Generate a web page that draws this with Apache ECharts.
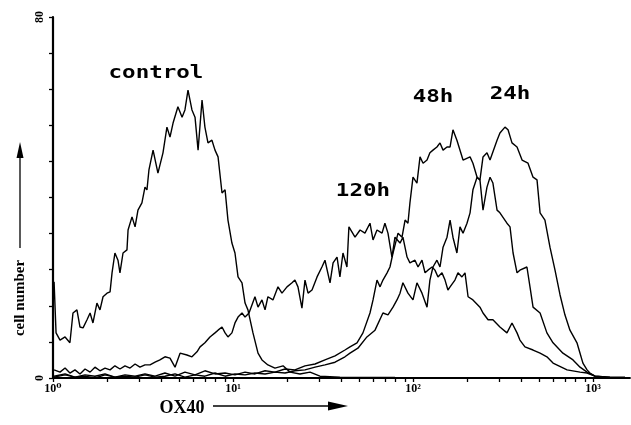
<!DOCTYPE html>
<html><head><meta charset="utf-8">
<script src="https://cdn.jsdelivr.net/npm/echarts@6/dist/echarts.min.js"></script>
<style>html,body{margin:0;padding:0;background:#fff}#c{width:631px;height:425px}</style>
</head><body><div id="c"></div>
<script>
// x = log10(OX40 fluorescence), y = cell number
const xDecades = [0, 1, 2, 3];
const xTickLabels = ['10\u2070', '10\u00b9', '10\u00b2', '10\u00b3'];
const yLabels = [0, 80];

const control = [[0.006,21.3],[0.017,10.0],[0.039,8.4],[0.067,9.1],[0.094,7.8],[0.111,14.4],[0.133,15.1],[0.150,11.3],[0.167,11.1],[0.189,12.9],[0.206,14.4],[0.222,12.2],[0.244,16.6],[0.261,15.1],[0.278,18.0],[0.300,18.8],[0.317,19.1],[0.328,23.3],[0.344,27.7],[0.361,26.1],[0.372,23.3],[0.389,27.7],[0.411,28.4],[0.417,32.8],[0.439,35.7],[0.456,33.5],[0.472,37.2],[0.494,38.8],[0.511,42.3],[0.522,41.7],[0.533,46.1],[0.556,50.5],[0.583,45.4],[0.611,49.9],[0.633,55.6],[0.650,53.4],[0.667,56.5],[0.694,60.1],[0.717,57.8],[0.733,59.4],[0.750,63.8],[0.772,59.4],[0.789,57.8],[0.806,50.5],[0.828,61.6],[0.844,55.6],[0.861,52.1],[0.883,52.7],[0.900,50.5],[0.917,49.0],[0.939,41.0],[0.956,41.7],[0.972,35.0],[0.994,29.9],[1.011,27.7],[1.028,22.4],[1.050,21.1],[1.067,16.6],[1.083,15.1],[1.111,10.0],[1.139,5.5],[1.161,4.0],[1.194,2.9],[1.233,2.2],[1.278,2.7],[1.317,1.3],[1.372,0.9],[1.428,1.3],[1.483,0.4],[1.594,0.2],[1.900,0.1],[2.500,0],[3.200,0]];

const h120 = [[0.006,1.8],[0.039,1.3],[0.067,2.2],[0.094,1.1],[0.122,1.8],[0.150,0.9],[0.178,2.0],[0.206,1.3],[0.233,2.4],[0.261,1.6],[0.289,2.2],[0.317,1.8],[0.344,2.7],[0.372,2.0],[0.400,2.7],[0.428,2.2],[0.456,3.1],[0.483,2.4],[0.511,2.9],[0.539,2.9],[0.567,3.5],[0.594,4.0],[0.622,4.7],[0.650,4.4],[0.678,2.4],[0.706,5.5],[0.744,5.1],[0.772,4.7],[0.800,5.8],[0.817,6.9],[0.844,7.8],[0.872,9.1],[0.900,10.0],[0.917,10.6],[0.939,11.3],[0.956,10.0],[0.972,9.1],[0.994,10.0],[1.011,12.2],[1.028,13.5],[1.050,14.4],[1.067,13.5],[1.089,14.4],[1.122,18.0],[1.139,15.7],[1.161,17.3],[1.178,15.1],[1.194,18.0],[1.222,17.3],[1.250,20.2],[1.272,18.8],[1.300,20.2],[1.328,21.1],[1.344,21.7],[1.361,20.2],[1.383,15.5],[1.400,21.7],[1.417,18.8],[1.439,19.5],[1.467,22.4],[1.494,24.6],[1.511,26.1],[1.539,21.1],[1.556,25.5],[1.578,26.8],[1.594,22.4],[1.611,27.7],[1.633,24.6],[1.644,33.5],[1.678,31.2],[1.706,32.8],[1.733,32.1],[1.761,34.3],[1.778,30.6],[1.800,32.8],[1.828,32.1],[1.844,34.3],[1.861,32.1],[1.883,26.8],[1.900,31.2],[1.928,29.9],[1.944,31.2],[1.967,26.8],[1.983,25.5],[2.011,26.1],[2.028,24.6],[2.050,26.1],[2.067,23.3],[2.083,23.9],[2.106,24.6],[2.122,23.9],[2.139,22.4],[2.161,23.3],[2.178,21.7],[2.194,19.5],[2.206,20.2],[2.233,21.7],[2.250,23.3],[2.272,22.4],[2.289,23.3],[2.306,18.0],[2.333,17.3],[2.372,15.7],[2.389,14.4],[2.417,12.9],[2.444,12.9],[2.483,11.3],[2.522,10.0],[2.550,12.2],[2.578,10.0],[2.594,8.4],[2.622,6.9],[2.667,6.2],[2.706,5.5],[2.744,4.7],[2.778,3.3],[2.856,1.8],[2.928,1.3],[2.967,1.1],[3.011,0.4],[3.094,0.2],[3.178,0.2]];

const h48 = [[0.006,0.4],[0.067,0.9],[0.122,0.2],[0.178,0.7],[0.233,0.4],[0.289,0.9],[0.344,0.2],[0.400,0.7],[0.456,0.4],[0.511,0.9],[0.567,0.4],[0.622,1.1],[0.678,0.4],[0.733,1.3],[0.789,0.7],[0.844,1.6],[0.900,0.9],[0.956,1.1],[1.011,0.7],[1.067,1.3],[1.122,0.9],[1.178,1.6],[1.233,1.3],[1.289,2.0],[1.344,1.8],[1.400,2.7],[1.456,3.1],[1.511,4.0],[1.567,4.9],[1.622,6.2],[1.650,6.9],[1.689,7.8],[1.722,10.0],[1.761,14.4],[1.778,17.3],[1.800,21.7],[1.817,20.2],[1.833,21.7],[1.856,23.3],[1.872,24.6],[1.889,27.7],[1.917,32.1],[1.939,31.2],[1.956,35.0],[1.972,34.3],[1.983,38.8],[2.000,44.5],[2.022,43.2],[2.039,49.0],[2.056,47.6],[2.078,48.3],[2.094,49.9],[2.111,50.5],[2.133,51.2],[2.150,52.1],[2.167,50.5],[2.189,51.2],[2.206,51.2],[2.222,55.0],[2.244,52.7],[2.278,48.3],[2.317,49.0],[2.333,47.6],[2.356,44.5],[2.372,43.9],[2.389,37.2],[2.411,42.3],[2.428,44.5],[2.444,43.2],[2.467,37.2],[2.483,36.6],[2.522,34.3],[2.539,33.5],[2.556,27.7],[2.578,23.3],[2.594,23.9],[2.633,24.6],[2.650,20.2],[2.667,15.7],[2.706,14.4],[2.744,10.0],[2.778,7.8],[2.833,5.5],[2.889,4.0],[2.928,2.4],[2.967,1.3],[3.011,0.4],[3.094,0.2]];

const h24 = [[0.006,0.2],[0.067,0.7],[0.122,0.2],[0.178,0.4],[0.233,0],[0.289,0.7],[0.344,0.2],[0.400,0.4],[0.456,0.2],[0.511,0.7],[0.567,0.2],[0.622,0.4],[0.678,0.9],[0.733,0.2],[0.789,0.7],[0.844,0.4],[0.900,1.1],[0.956,0.4],[1.011,0.9],[1.067,0.7],[1.122,1.1],[1.178,0.9],[1.233,1.3],[1.289,1.1],[1.344,1.6],[1.400,1.8],[1.456,2.4],[1.511,2.9],[1.567,3.5],[1.622,4.7],[1.650,5.5],[1.694,6.6],[1.744,9.1],[1.789,10.6],[1.833,14.4],[1.861,14.0],[1.889,15.7],[1.911,17.3],[1.928,18.8],[1.944,21.1],[1.972,18.8],[2.000,17.3],[2.022,21.1],[2.050,18.8],[2.078,15.7],[2.094,21.7],[2.111,24.6],[2.133,26.1],[2.150,24.6],[2.167,29.0],[2.189,31.2],[2.206,35.0],[2.222,31.2],[2.244,27.7],[2.261,33.5],[2.278,32.1],[2.300,34.3],[2.317,36.6],[2.333,41.7],[2.356,44.5],[2.372,43.9],[2.389,49.0],[2.411,49.9],[2.428,48.3],[2.467,52.7],[2.483,54.3],[2.511,55.6],[2.528,55.0],[2.550,52.1],[2.578,51.2],[2.606,48.3],[2.639,47.6],[2.667,44.5],[2.689,43.9],[2.706,36.6],[2.733,35.0],[2.761,29.0],[2.789,23.9],[2.817,18.4],[2.844,14.0],[2.872,10.6],[2.911,7.8],[2.928,5.5],[2.944,3.3],[2.967,1.8],[2.983,1.1],[3.011,0.4],[3.067,0.2]];

// curve annotations [text, log10 x, y]
const annotations = [['control', 0.572, 67.6], ['48h', 2.111, 62.3], ['24h', 2.539, 62.9], ['120h', 1.722, 41.4]];

const xMax = 3.2056;
const minorTicks = [];
for (let d = 0; d <= 3; d++) for (let k = 1; k <= 9; k++) {
  const v = d + Math.log10(k);
  if (v <= xMax) minorTicks.push(v);
}

const chart = echarts.init(document.getElementById('c'), null, {renderer: 'canvas'});
const lineSeries = (name, data) => ({
  name, type: 'line', data, showSymbol: false, symbol: 'none', animation: false,
  lineStyle: {color: '#000', width: 1.4}, z: 3
});
const serif = "'Liberation Serif','DejaVu Serif',serif";
chart.setOption({
  animation: false,
  backgroundColor: '#fff',
  grid: {left: 53, right: 1, top: 17, bottom: 47, containLabel: false},
  xAxis: {
    type: 'value', min: 0, max: xMax,
    axisLine: {show: true, lineStyle: {color: '#000', width: 1.8}},
    axisTick: {show: true, customValues: minorTicks, length: 4, lineStyle: {color: '#000', width: 1.3}},
    axisLabel: {
      customValues: xDecades, margin: 5,
      formatter: v => xTickLabels[xDecades.indexOf(Math.round(v))] || '',
      color: '#000', fontFamily: serif, fontWeight: 'bold', fontSize: 12
    },
    splitLine: {show: false}
  },
  yAxis: {
    type: 'value', min: 0, max: 80, interval: 8,
    axisLine: {show: true, lineStyle: {color: '#000', width: 2.2}},
    axisTick: {show: true, length: 4, lineStyle: {color: '#000', width: 1.3}},
    axisLabel: {
      rotate: 90, margin: 7, color: '#000', fontFamily: serif, fontWeight: 'bold', fontSize: 12,
      formatter: v => yLabels.indexOf(v) >= 0 ? String(v) : ''
    },
    splitLine: {show: false}
  },
  series: [lineSeries('control', control), lineSeries('120h', h120), lineSeries('48h', h48), lineSeries('24h', h24)]
});

const graphics = annotations.map(a => {
  const p = chart.convertToPixel({gridIndex: 0}, [a[1], a[2]]);
  return {
    type: 'text', x: p[0], y: p[1], scaleX: 1.25, z: 10,
    style: {text: a[0], font: "bold 18px 'DejaVu Sans Mono', monospace", fill: '#000', align: 'center', verticalAlign: 'middle'}
  };
});
// axis titles and arrows
graphics.push(
  {type: 'text', x: 20, y: 298, rotation: Math.PI / 2, z: 10,
   style: {text: 'cell number', font: "bold 15px " + serif, fill: '#000', align: 'center', verticalAlign: 'middle'}},
  {type: 'line', shape: {x1: 20, y1: 248, x2: 20, y2: 155}, style: {stroke: '#000', lineWidth: 1.3}},
  {type: 'polygon', shape: {points: [[20, 142], [16.5, 158], [23.5, 158]]}, style: {fill: '#000'}},
  {type: 'text', x: 182, y: 408, z: 10,
   style: {text: 'OX40', font: "bold 18px " + serif, fill: '#000', align: 'center', verticalAlign: 'middle'}},
  {type: 'line', shape: {x1: 213, y1: 406, x2: 335, y2: 406}, style: {stroke: '#000', lineWidth: 1.3}},
  {type: 'polygon', shape: {points: [[348, 406], [328, 401.5], [328, 410.5]]}, style: {fill: '#000'}}
);
chart.setOption({graphic: graphics});
</script></body></html>
